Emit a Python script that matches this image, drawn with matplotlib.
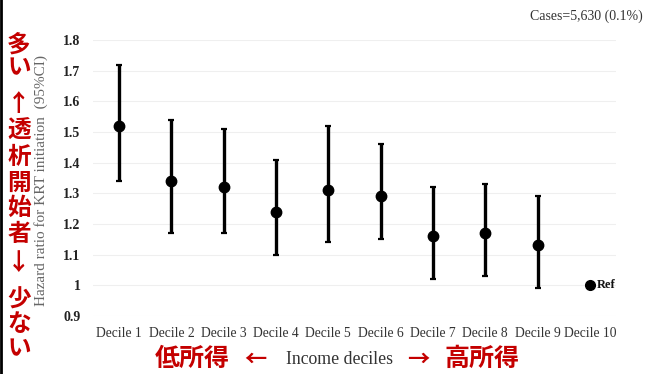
import matplotlib
matplotlib.use("Agg")
import matplotlib.pyplot as plt
from matplotlib.lines import Line2D
import numpy as np

# Hazard ratios for KRT initiation by income decile (Decile 10 = reference)
categories = ["Decile 1", "Decile 2", "Decile 3", "Decile 4", "Decile 5",
              "Decile 6", "Decile 7", "Decile 8", "Decile 9", "Decile 10"]
hazard_ratio = [1.52, 1.34, 1.32, 1.24, 1.31, 1.29, 1.16, 1.17, 1.13, 1.00]
ci_low = [1.34, 1.17, 1.17, 1.10, 1.14, 1.15, 1.02, 1.03, 0.99, 1.00]
ci_high = [1.72, 1.54, 1.51, 1.41, 1.52, 1.46, 1.32, 1.33, 1.29, 1.00]
y_ticks = [0.9, 1.0, 1.1, 1.2, 1.3, 1.4, 1.5, 1.6, 1.7, 1.8]
y_tick_labels = ["0.9", "1", "1.1", "1.2", "1.3", "1.4", "1.5", "1.6", "1.7", "1.8"]

SERIF = "Liberation Serif"
CJK = ["Noto Sans CJK JP", "DejaVu Sans"]
RED = "#c40000"

fig = plt.figure(figsize=(6.47, 3.74), dpi=100)
ax = fig.add_axes([93 / 647, 1 - 316 / 374, (616 - 93) / 647, (316 - 40) / 374])

x = np.arange(len(categories))
hr = np.array(hazard_ratio)
lo = np.array(ci_low)
hi = np.array(ci_high)

# Estimates with 95% CI (all but the reference group)
ax.errorbar(x[:-1], hr[:-1], yerr=[hr[:-1] - lo[:-1], hi[:-1] - hr[:-1]],
            fmt="o", color="black", ecolor="black", elinewidth=2.4,
            capsize=2.0, capthick=1.6, markersize=7.5, zorder=3)
# Reference group
ax.plot(x[-1], hr[-1], "o", color="black", markersize=7, zorder=3)
ax.text(x[-1] + 0.13, hr[-1], "Ref", fontfamily=SERIF, fontweight="bold",
        fontsize=9, va="center", ha="left", color="#111111")

ax.set_xlim(-0.5, len(categories) - 0.5)
ax.set_ylim(0.9, 1.8)
ax.set_yticks(y_ticks)
ax.set_yticklabels(y_tick_labels, fontfamily=SERIF, fontweight="bold",
                   fontsize=10, color="#222222")
ax.set_xticks(x)
ax.set_xticklabels(categories, fontfamily=SERIF, fontsize=9.8, color="#333333")
ax.tick_params(axis="y", length=0, pad=9)
ax.tick_params(axis="x", length=0, pad=8)
for s in ax.spines.values():
    s.set_visible(False)
ax.yaxis.grid(True, color="#efefef", linewidth=0.8)
ax.set_axisbelow(True)

ax.set_ylabel("Hazard ratio for KRT initiation  (95%CI)", fontfamily=SERIF,
              fontsize=11, color="#666666")
ax.yaxis.set_label_coords(-(93 - 48) / 523, 0.49)

# Case count
fig.text(643 / 647, 1 - 16 / 374, "Cases=5,630 (0.1%)", fontfamily=SERIF,
         fontsize=10, color="#333333", ha="right", va="center")

# Vertical red annotation on the left
side_chars = [("多", 45), ("い", 67), ("↑", 104), ("透", 131), ("析", 157),
              ("開", 183), ("始", 208), ("者", 234), ("↓", 263),
              ("少", 300), ("な", 324), ("い", 348)]
for ch, ypx in side_chars:
    fig.text(19 / 647, 1 - ypx / 374, ch, family=CJK, fontweight="bold",
             fontsize=17, color=RED, ha="center", va="center")

# Bottom axis annotation
ybot = 1 - 359 / 374
fig.text(192 / 647, ybot, "低所得", family=CJK, fontweight="bold",
         fontsize=18, color=RED, ha="center", va="center")
fig.text(255 / 647, ybot, "←", family=CJK, fontweight="bold",
         fontsize=16, color=RED, ha="center", va="center")
fig.text(340 / 647, ybot, "Income deciles", fontfamily=SERIF,
         fontsize=12.8, color="#333333", ha="center", va="center")
fig.text(418 / 647, ybot, "→", family=CJK, fontweight="bold",
         fontsize=16, color=RED, ha="center", va="center")
fig.text(482 / 647, ybot, "高所得", family=CJK, fontweight="bold",
         fontsize=18, color=RED, ha="center", va="center")

# Left border line
fig.add_artist(Line2D([0.002, 0.002], [0, 1], transform=fig.transFigure,
                      color="black", linewidth=2))

fig.savefig("out.png", dpi=100)
